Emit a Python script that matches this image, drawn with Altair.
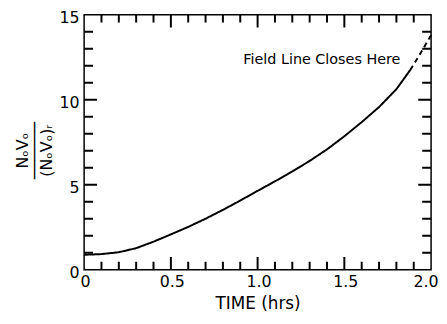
import altair as alt
import pandas as pd

# Solid part of the curve
time_solid = [0.0, 0.1, 0.2, 0.3, 0.4, 0.5, 0.6, 0.7, 0.8, 0.9, 1.0,
              1.1, 1.2, 1.3, 1.4, 1.5, 1.6, 1.7, 1.8, 1.88]
ratio_solid = [0.88, 0.92, 1.03, 1.27, 1.65, 2.08, 2.52, 3.0, 3.52, 4.07, 4.64,
               5.2, 5.78, 6.4, 7.08, 7.85, 8.68, 9.57, 10.62, 11.75]
# Dashed extension
time_dash = [1.88, 1.94, 2.0]
ratio_dash = [11.75, 12.75, 13.8]

x_tick_labels = [0, 0.5, 1.0, 1.5, 2.0]
y_tick_labels = [0, 5, 10, 15]
x_minor = [0.1, 0.2, 0.3, 0.4, 0.6, 0.7, 0.8, 0.9, 1.1, 1.2, 1.3, 1.4,
           1.6, 1.7, 1.8, 1.9]
x_major = [0.5, 1.0, 1.5]
y_minor = [1, 2, 3, 4, 6, 7, 8, 9, 11, 12, 13, 14]
y_major = [5, 10]

annotation = "Field Line Closes Here"
annot_t = [1.823]
annot_v = [12.1]

W, H = 351, 258
X0, X1, Y0, Y1 = 0.0, 2.0, 0.0, 15.0
FONT = "DejaVu Sans"
XT = "TIME (hrs)"
YT = ["NₒVₒ", "──────", "(NₒVₒ)ᵣ"]

xs = alt.Scale(domain=[X0, X1], nice=False, zero=False)
ys = alt.Scale(domain=[Y0, Y1], nice=False, zero=False)

# one table: curve, dashed tail and inward tick segments (lengths from px)
px_x = (X1 - X0) / W
px_y = (Y1 - Y0) / H
rows = []
k = 0
def add(kind, ts, vs):
    global k
    for i, (t, v) in enumerate(zip(ts, vs)):
        rows.append({"id": k, "o": i, "kind": kind, "t": t, "v": v})
    k += 1
add("solid", time_solid, ratio_solid)
add("dash", time_dash, ratio_dash)
for vals, ln in ((x_minor, 8), (x_major, 13)):
    for t in vals:
        add("tick", [t, t], [Y0, Y0 + ln * px_y])
        add("tick", [t, t], [Y1, Y1 - ln * px_y])
for vals, ln in ((y_minor, 9), (y_major, 13)):
    for v in vals:
        add("tick", [X0, X0 + ln * px_x], [v, v])
        add("tick", [X1, X1 - ln * px_x], [v, v])
df = pd.DataFrame(rows)

kinds = ["solid", "dash", "tick"]
lines = alt.Chart(df).mark_line(color="black").encode(
    x=alt.X("t:Q", scale=xs, title=XT,
            axis=alt.Axis(values=x_tick_labels, labelFlush=False,
                          labelAlign={"condition": {"test": "datum.value == 2", "value": "right"}, "value": "center"},
                          labelOffset={"condition": {"test": "datum.value == 2", "value": 7}, "value": 1},
                          labelExpr="datum.value == 0 ? '0' : format(datum.value, '.1f')")),
    y=alt.Y("v:Q", scale=ys, title=YT,
            axis=alt.Axis(values=y_tick_labels, labelFlush=False, labelBaseline="middle",
                          labelOffset=3, titleX=-62, titleY=137,
                          titleAngle=270, titleAlign="center", titleBaseline="middle")),
    detail="id:N",
    order="o:Q",
    strokeDash=alt.StrokeDash("kind:N", scale=alt.Scale(domain=kinds, range=[[1, 0], [5, 4], [1, 0]]), legend=None),
    strokeWidth=alt.StrokeWidth("kind:N", scale=alt.Scale(domain=kinds, range=[2, 2, 1.6]), legend=None),
)

text = alt.Chart(pd.DataFrame({"t": annot_t, "v": annot_v, "s": [annotation]})).mark_text(
    align="right", baseline="alphabetic", font=FONT, fontSize=14.5, color="black"
).encode(x=alt.X("t:Q", scale=xs, title=XT), y=alt.Y("v:Q", scale=ys, title=YT), text="s:N")

chart = alt.layer(lines, text).properties(
    width=W, height=H,
    autosize=alt.AutoSizeParams(type="none"),
    padding={"left": 77, "top": 5, "right": 8, "bottom": 45},
    background="white",
).configure_view(stroke="black", strokeWidth=1.5).configure_axis(
    ticks=False, grid=False, domain=False,
    labelFont=FONT, labelFontSize=16, labelColor="black",
    titleFont=FONT, titleFontWeight="normal", titleColor="black",
).configure_axisX(
    labelPadding=4, titleFontSize=17, titlePadding=6,
).configure_axisY(
    labelPadding=5, titleFontSize=16, titleLineHeight=12,
)

chart.save("out.html", embed_options={"renderer": "svg", "actions": False})
